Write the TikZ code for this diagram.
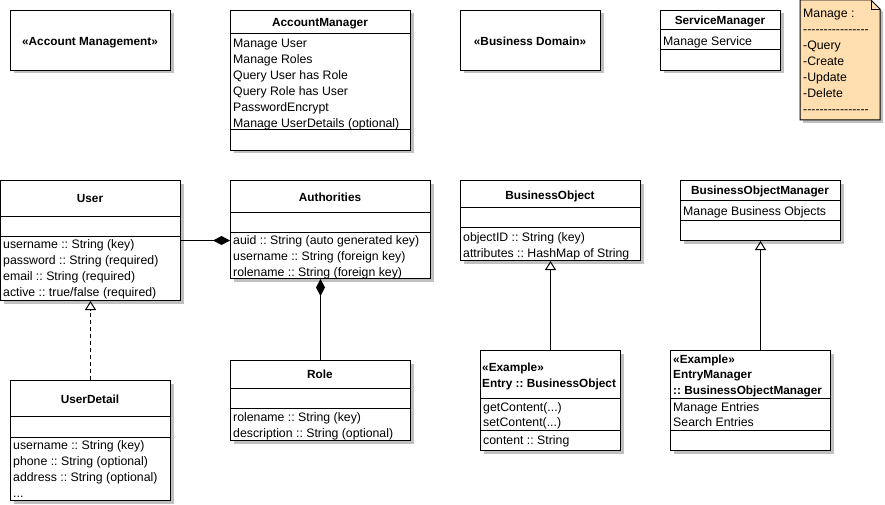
\documentclass[tikz,border=0pt]{standalone}
\usepackage{fontspec}
\setmainfont{Liberation Sans}[Ligatures=TeXOff]
\usetikzlibrary{arrows.meta,shadows}
\definecolor{shadowgray}{HTML}{C0C0C0}
\definecolor{notefill}{HTML}{FFDFB0}
\frenchspacing
\tikzset{
  cls/.style={draw, fill=white, line width=1pt, anchor=north west, inner sep=0pt,
    general shadow={fill=shadowgray, shadow xshift=3pt, shadow yshift=-3pt}},
  ttl/.style={inner sep=0pt, text height=8.6pt, text depth=0pt, font=\fontsize{11.8}{14}\selectfont\bfseries\frenchspacing},
  ttlw/.style={ttl, anchor=west},
  att/.style={inner sep=0pt, text height=8.6pt, text depth=0pt, anchor=west, font=\fontsize{12.3}{14}\selectfont\frenchspacing},
  sepline/.style={line width=1pt},
  comp/.style={line width=1pt, -{Diamond[length=17pt,width=9pt]}},
  gen/.style={line width=1pt, -{Triangle[length=9pt,width=11pt,fill=white]}},
  real/.style={gen, dash pattern=on 4pt off 3pt}
}
\begin{document}
\begin{tikzpicture}[x=1pt,y=-1pt]
\useasboundingbox (0,0) rectangle (885,505);

% Account Management package
\node[cls, minimum width=160pt, minimum height=60pt] (acm) at (10,10) {};
\node[ttl] (acm-t) at (90,41) {«Account Management»};

% AccountManager
\node[cls, minimum width=180pt, minimum height=140pt] (am) at (230,10) {};
\draw[sepline] (am.west |- 0,34) -- (am.east |- 0,34);
\draw[sepline] (am.west |- 0,130) -- (am.east |- 0,130);
\node[ttl] (am-t) at (320,22) {AccountManager};
\node[att] (am-1) at (233,43) {Manage User};
\node[att] (am-2) at (233,59) {Manage Roles};
\node[att] (am-3) at (233,75) {Query User has Role};
\node[att] (am-4) at (233,91) {Query Role has User};
\node[att] (am-5) at (233,107) {PasswordEncrypt};
\node[att] (am-6) at (233,123) {Manage UserDetails (optional)};

% Business Domain package
\node[cls, minimum width=140pt, minimum height=60pt] (bd) at (460,10) {};
\node[ttl] (bd-t) at (530,41) {«Business Domain»};

% ServiceManager
\node[cls, minimum width=120pt, minimum height=60pt] (sm) at (660,10) {};
\draw[sepline] (sm.west |- 0,30) -- (sm.east |- 0,30);
\draw[sepline] (sm.west |- 0,50) -- (sm.east |- 0,50);
\node[ttl] (sm-t) at (720,20.5) {ServiceManager};
\node[att] (sm-1) at (663,41) {Manage Service};

% Note
\fill[shadowgray] (803,3) -- (874,3) -- (883,12) -- (883,123) -- (803,123) -- cycle;
\draw[line width=1pt, fill=notefill] (800,0) -- (871,0) -- (880,9) -- (880,120) -- (800,120) -- cycle;
\draw[line width=0.8pt] (871,0) -- (871,9) -- (880,9);
\node[att] (n-1) at (803,13) {Manage :};
\node[att] (n-2) at (803,29) {----------------};
\node[att] (n-3) at (803,45) {-Query};
\node[att] (n-4) at (803,61) {-Create};
\node[att] (n-5) at (803,77) {-Update};
\node[att] (n-6) at (803,93) {-Delete};
\node[att] (n-7) at (803,109) {----------------};

% User
\node[cls, minimum width=180pt, minimum height=120pt] (user) at (0,180) {};
\draw[sepline] (user.west |- 0,216.5) -- (user.east |- 0,216.5);
\draw[sepline] (user.west |- 0,236) -- (user.east |- 0,236);
\node[ttl] (user-t) at (90,198) {User};
\node[att] (user-1) at (3,244) {username :: String (key)};
\node[att] (user-2) at (3,260) {password :: String (required)};
\node[att] (user-3) at (3,276) {email :: String (required)};
\node[att] (user-4) at (3,292) {active :: true/false (required)};

% Authorities
\node[cls, minimum width=200pt, minimum height=98pt] (auth) at (230,180) {};
\draw[sepline] (auth.west |- 0,212) -- (auth.east |- 0,212);
\draw[sepline] (auth.west |- 0,232) -- (auth.east |- 0,232);
\node[ttl] (auth-t) at (330,197) {Authorities};
\node[att] (auth-1) at (233,240) {auid :: String (auto generated key)};
\node[att] (auth-2) at (233,256) {username :: String (foreign key)};
\node[att] (auth-3) at (233,272) {rolename :: String (foreign key)};

% BusinessObject
\node[cls, minimum width=180pt, minimum height=80pt] (bo) at (460,180) {};
\draw[sepline] (bo.west |- 0,207.5) -- (bo.east |- 0,207.5);
\draw[sepline] (bo.west |- 0,227.5) -- (bo.east |- 0,227.5);
\node[ttl] (bo-t) at (550,195) {BusinessObject};
\node[att] (bo-1) at (463,237) {objectID :: String (key)};
\node[att] (bo-2) at (463,253) {attributes :: HashMap of String};

% BusinessObjectManager
\node[cls, minimum width=160pt, minimum height=60pt] (bom) at (680,180) {};
\draw[sepline] (bom.west |- 0,200) -- (bom.east |- 0,200);
\draw[sepline] (bom.west |- 0,220) -- (bom.east |- 0,220);
\node[ttl] (bom-t) at (760,190.5) {BusinessObjectManager};
\node[att] (bom-1) at (683,211) {Manage Business Objects};

% Role
\node[cls, minimum width=180pt, minimum height=80pt] (role) at (230,360) {};
\draw[sepline] (role.west |- 0,388) -- (role.east |- 0,388);
\draw[sepline] (role.west |- 0,408) -- (role.east |- 0,408);
\node[ttl] (role-t) at (320,374) {Role};
\node[att] (role-1) at (233,417) {rolename :: String (key)};
\node[att] (role-2) at (233,433) {description :: String (optional)};

% UserDetail
\node[cls, minimum width=160pt, minimum height=120pt] (ud) at (10,380) {};
\draw[sepline] (ud.west |- 0,416) -- (ud.east |- 0,416);
\draw[sepline] (ud.west |- 0,437) -- (ud.east |- 0,437);
\node[ttl] (ud-t) at (90,399) {UserDetail};
\node[att] (ud-1) at (13,445) {username :: String (key)};
\node[att] (ud-2) at (13,461) {phone :: String (optional)};
\node[att] (ud-3) at (13,477) {address :: String (optional)};
\node[att] (ud-4) at (13,493) {...};

% Entry
\node[cls, minimum width=140pt, minimum height=100pt] (entry) at (480,350) {};
\draw[sepline] (entry.west |- 0,398.5) -- (entry.east |- 0,398.5);
\draw[sepline] (entry.west |- 0,430) -- (entry.east |- 0,430);
\node[ttlw] (entry-s) at (482,367) {«Example»};
\node[ttlw] (entry-t) at (482,383) {Entry :: BusinessObject};
\node[att] (entry-1) at (483,407) {getContent(...)};
\node[att] (entry-2) at (483,422.5) {setContent(...)};
\node[att] (entry-3) at (483,440) {content :: String};

% EntryManager
\node[cls, minimum width=160pt, minimum height=100pt] (em) at (670,350) {};
\draw[sepline] (em.west |- 0,398.5) -- (em.east |- 0,398.5);
\draw[sepline] (em.west |- 0,430) -- (em.east |- 0,430);
\node[ttlw] (em-s) at (673,359) {«Example»};
\node[ttlw] (em-t) at (673,374.5) {EntryManager};
\node[ttlw] (em-u) at (673,390) {:: BusinessObjectManager};
\node[att] (em-1) at (673,407) {Manage Entries};
\node[att] (em-2) at (673,422.5) {Search Entries};

% Connectors
\draw[comp] (user.east) -- (user.east -| auth.west);
\draw[comp] (role.north) -- (role.north |- auth.south);
\draw[real] (ud.north) -- (user.south);
\draw[gen] (entry.north) -- (bo.south);
\draw[gen] (bom.south |- em.north) -- (bom.south);
\end{tikzpicture}
\end{document}
